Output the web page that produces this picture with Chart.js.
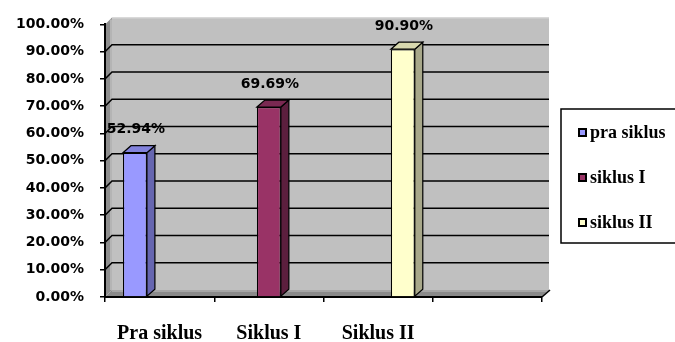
<!DOCTYPE html>
<html>
<head>
<meta charset="utf-8">
<script src="https://cdn.jsdelivr.net/npm/chart.js@4"></script>
<style>html,body{margin:0;padding:0;background:#fff}</style>
</head>
<body>
<canvas id="chart" width="675" height="342"></canvas>
<script>
// chart values
const categories = ['Pra siklus', 'Siklus I', 'Siklus II', '']
const seriesNames = ['pra siklus', 'siklus I', 'siklus II']
const praSiklus = [52.94, null, null, null]
const siklusI = [null, 69.69, null, null]
const siklusII = [null, null, 90.90, null]

// face colours: front, side, top
const faceColors = [
    ['#9999FF', '#6666B0', '#8282DC'],
    ['#993366', '#5C1F3E', '#7A2952'],
    ['#FFFFCC', '#A8A88A', '#D8D8AE']
]

const DX = 8, DY = 7       // bar depth
const WX = 7, WY = 7       // wall depth
const tickFont = { family: 'DejaVu Sans', size: 14, weight: 'bold' }

const fmtPct = (v) => Number(v).toFixed(2) + '%'

// back wall, side wall, floor and gridlines, drawn before the scales
const walls3d = {
    id: 'walls3d',
    beforeDraw(chart) {
        const { ctx, chartArea: a, scales: { y } } = chart
        ctx.save()
        // back wall
        ctx.fillStyle = '#C0C0C0'
        ctx.fillRect(a.left + WX, a.top - WY, a.right - a.left, a.bottom - a.top)
        ctx.strokeStyle = '#DADADA'
        ctx.lineWidth = 1
        ctx.beginPath()
        ctx.moveTo(a.left + WX, a.top - WY + 0.5)
        ctx.lineTo(a.right + WX, a.top - WY + 0.5)
        ctx.stroke()
        // left side wall
        ctx.fillStyle = '#8E8E8E'
        ctx.beginPath()
        ctx.moveTo(a.left, a.top); ctx.lineTo(a.left + WX, a.top - WY)
        ctx.lineTo(a.left + WX, a.bottom - WY); ctx.lineTo(a.left, a.bottom)
        ctx.closePath(); ctx.fill()
        ctx.fillStyle = '#B4B4B4'
        ctx.fillRect(a.left + WX - 2, a.top - WY + 2, 2, a.bottom - a.top - 2)
        // floor
        ctx.fillStyle = '#8A8A8A'
        ctx.beginPath()
        ctx.moveTo(a.left, a.bottom); ctx.lineTo(a.left + WX, a.bottom - WY)
        ctx.lineTo(a.right + WX, a.bottom - WY); ctx.lineTo(a.right, a.bottom)
        ctx.closePath(); ctx.fill()
        ctx.fillStyle = '#A6A6A6'
        ctx.fillRect(a.left + WX, a.bottom - WY, a.right - a.left, 2)
        // gridlines
        ctx.strokeStyle = '#000'
        ctx.lineWidth = 1.5
        y.ticks.forEach(t => {
            if (t.value <= 0 || t.value >= 100) return
            const py = y.getPixelForValue(t.value)
            ctx.beginPath()
            ctx.moveTo(a.left, py)
            ctx.lineTo(a.left + WX, py - WY)
            ctx.lineTo(a.right + WX, py - WY)
            ctx.stroke()
        })
        ctx.restore()
    },
    afterDatasetsDraw(chart) {
        const { ctx } = chart
        ctx.save()
        chart.data.datasets.forEach((ds, i) => {
            const meta = chart.getDatasetMeta(i)
            meta.data.forEach((el, j) => {
                const v = ds.data[j]
                if (v === null || v === undefined) return
                const xl = el.x - el.width / 2, xr = el.x + el.width / 2
                const top = el.y, base = el.base
                ctx.strokeStyle = '#000'
                ctx.lineWidth = 1.2
                // side face
                ctx.fillStyle = faceColors[i][1]
                ctx.beginPath()
                ctx.moveTo(xr, top); ctx.lineTo(xr + DX, top - DY)
                ctx.lineTo(xr + DX, base - DY); ctx.lineTo(xr, base)
                ctx.closePath(); ctx.fill(); ctx.stroke()
                // top face
                ctx.fillStyle = faceColors[i][2]
                ctx.beginPath()
                ctx.moveTo(xl, top); ctx.lineTo(xl + DX, top - DY)
                ctx.lineTo(xr + DX, top - DY); ctx.lineTo(xr, top)
                ctx.closePath(); ctx.fill(); ctx.stroke()
                // value label
                ctx.fillStyle = '#000'
                ctx.font = 'bold 14px "DejaVu Sans"'
                ctx.textAlign = 'center'
                ctx.textBaseline = 'middle'
                ctx.fillText(fmtPct(v), el.x + 1, top - 23)
            })
        })
        ctx.restore()
    },
    afterDraw(chart) {
        const { ctx, chartArea: a } = chart
        ctx.save()
        // small diagonal at the floor's right end
        ctx.strokeStyle = '#000'
        ctx.lineWidth = 1.5
        ctx.beginPath()
        ctx.moveTo(a.right, a.bottom); ctx.lineTo(a.right + WX + 1, a.bottom - WY)
        ctx.stroke()
        // legend box
        ctx.lineWidth = 1.5
        ctx.strokeRect(561, 109, 140, 134)
        ctx.font = 'bold 18px "Liberation Serif"'
        ctx.textAlign = 'left'
        ctx.textBaseline = 'middle'
        chart.data.datasets.forEach((ds, i) => {
            const cy = 133 + i * 45
            ctx.fillStyle = ds.backgroundColor
            ctx.fillRect(579, cy - 4, 7, 7)
            ctx.lineWidth = 2
            ctx.strokeRect(579, cy - 4, 7, 7)
            ctx.fillStyle = '#000'
            ctx.fillText(ds.label, 590, cy)
        })
        ctx.restore()
    }
}

const datasets = [praSiklus, siklusI, siklusII].map((data, i) => ({
    label: seriesNames[i],
    data,
    backgroundColor: faceColors[i][0],
    borderColor: '#000',
    borderWidth: 1.2,
    categoryPercentage: 0.678,
    barPercentage: 0.97
}))

new Chart(document.getElementById('chart'), {
    type: 'bar',
    data: { labels: categories, datasets },
    options: {
        responsive: false,
        animation: false,
        layout: { padding: { left: 13, right: 133, top: 16, bottom: 0 } },
        plugins: { legend: { display: false }, tooltip: { enabled: false } },
        scales: {
            x: {
                afterFit: (s) => { s.height = 45 },
                grid: { offset: true, drawOnChartArea: false, color: '#000', lineWidth: 1.5, tickLength: 5 },
                border: { color: '#000', width: 2 },
                ticks: { color: '#000', padding: 20, font: { family: 'Liberation Serif', size: 20, weight: 'bold' } }
            },
            y: {
                min: 0, max: 100,
                afterFit: (s) => { s.width = 92 },
                ticks: { stepSize: 10, color: '#000', padding: 16, font: tickFont, callback: (v) => fmtPct(v) },
                grid: { drawOnChartArea: false, color: '#000', lineWidth: 1.5, tickLength: 5 },
                border: { color: '#000', width: 2 }
            }
        }
    },
    plugins: [walls3d]
})
</script>
</body>
</html>
